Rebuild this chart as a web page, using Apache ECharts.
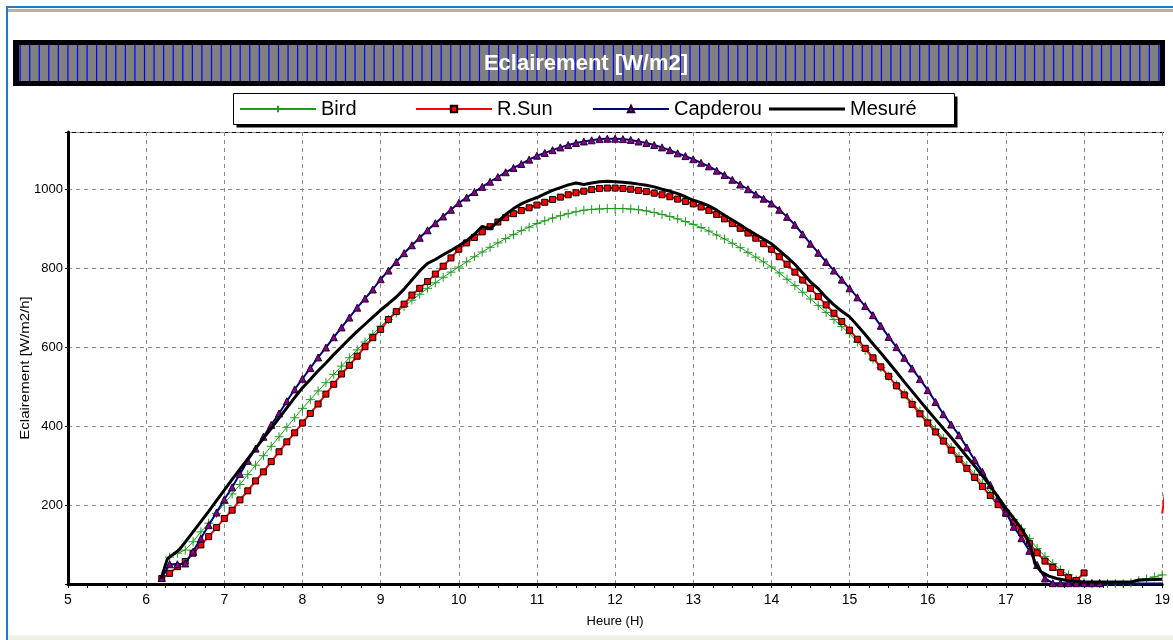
<!DOCTYPE html>
<html>
<head>
<meta charset="utf-8">
<title>Eclairement [W/m2]</title>
<script src="https://cdn.jsdelivr.net/npm/echarts@6/dist/echarts.min.js"></script>
<style>
  html, body { margin: 0; padding: 0; background: #fff; }
  #chart { width: 1173px; height: 640px; }
</style>
</head>
<body>
<div id="chart"></div>
<script>
// heures des modèles : pas de 6 min, de 6.2 h à 19.0 h
const hours = Array.from({ length: 129 }, (_, i) => Math.round((6.2 + i * 0.1) * 10) / 10);

// Bird (6.2 ... 19.0)
const bird = [
  null, 68, 78, 86, 107, 132, 154, 179,
  204, 228, 252, 277, 301, 325, 349, 373, 397, 421,
  445, 467, 489, 510, 531, 552, 573, 593, 613, 633,
  653, 670, 687, 703, 719, 734, 749, 763, 777, 790,
  803, 816, 829, 841, 853, 864, 875, 885, 895, 904,
  913, 920, 927, 933, 938, 943, 947, 949, 950, 951,
  951, 951, 950, 948, 945, 941, 936, 931, 925, 918,
  911, 903, 894, 884, 874, 863, 852, 840, 828, 816,
  803, 788, 772, 756, 739, 722, 705, 688, 670, 652,
  634, 613, 592, 570, 548, 526, 504, 482, 460, 438,
  415, 392, 369, 346, 323, 300, 278, 255, 232, 210,
  187, 164, 140, 115, 90, 70, 52, 36, 23, 10,
  3, 1, 1, 1, 1, 1, 3, 8, 13, 18,
  23
];

// R.Sun
const rsun = [
  14, 27, 44, 57, 78, 99, 120, 143,
  166, 187, 213, 236, 261, 284, 310, 335, 360, 383,
  408, 432, 456, 481, 506, 532, 554, 577, 601, 624,
  645, 670, 690, 709, 732, 749, 766, 785, 805, 826,
  848, 864, 878, 892, 905, 917, 928, 938, 946, 953,
  960, 967, 974, 980, 986, 991, 995, 999, 1002, 1003,
  1003, 1002, 1000, 997, 994, 990, 986, 981, 975, 969,
  963, 955, 946, 936, 925, 913, 901, 889, 876, 862,
  848, 829, 810, 790, 770, 749, 728, 707, 686, 665,
  643, 620, 597, 573, 550, 526, 502, 479, 455, 431,
  408, 385, 362, 339, 316, 293, 270, 247, 224, 201,
  179, 155, 130, 103, 79, 58, 42, 29, 16, 9,
  28, null, null, null, null, null, null, null, null, null,
  178
];
const rsunTail = [[19.1, 330]];

// Capderou
const capderou = [
  15, 50, 50, 52, 82, 115, 149, 181,
  214, 245, 279, 312, 343, 373, 403, 432, 463, 493,
  520, 547, 574, 599, 625, 650, 675, 700, 723, 746,
  772, 794, 816, 838, 858, 877, 896, 914, 931, 948,
  965, 979, 993, 1006, 1019, 1031, 1043, 1054, 1064, 1075,
  1085, 1092, 1099, 1106, 1112, 1117, 1121, 1124, 1127, 1128,
  1128, 1127, 1125, 1121, 1117, 1112, 1106, 1099, 1091, 1084,
  1076, 1067, 1058, 1047, 1036, 1024, 1012, 1000, 987, 976,
  964, 948, 930, 910, 886, 862, 839, 816, 794, 771,
  749, 726, 704, 681, 654, 626, 600, 573, 546, 519,
  491, 461, 430, 404, 377, 346, 314, 284, 251, 217,
  181, 145, 116, 84, 48, 14, 2, 2, 2, 2,
  2, 2, 2, 1, 1, 1, 1, 1, 1, 1,
  1
];
const capderouLastMarker = 18.2;

// Mesuré
const mesHours = [
  6.19, 6.23, 6.27, 6.33, 6.42, 6.5, 6.6, 6.7, 6.8, 6.9,
  7.0, 7.1, 7.2, 7.3, 7.4, 7.5, 7.6, 7.7, 7.8, 7.9,
  8.0, 8.1, 8.2, 8.3, 8.4, 8.5, 8.6, 8.7, 8.8, 8.9,
  9.0, 9.1, 9.2, 9.3, 9.4, 9.5, 9.6, 9.7, 9.8, 9.9,
  10.0, 10.1, 10.2, 10.3, 10.4, 10.5, 10.6, 10.7, 10.8, 10.9,
  11.0, 11.1, 11.2, 11.3, 11.4, 11.5, 11.6, 11.7, 11.8, 11.9,
  12.0, 12.1, 12.2, 12.3, 12.4, 12.5, 12.6, 12.7, 12.8, 12.9,
  13.0, 13.1, 13.2, 13.3, 13.4, 13.5, 13.6, 13.7, 13.8, 13.9,
  14.0, 14.1, 14.2, 14.3, 14.4, 14.5, 14.6, 14.7, 14.8, 14.9,
  15.0, 15.1, 15.2, 15.3, 15.4, 15.5, 15.6, 15.7, 15.8, 15.9,
  16.0, 16.1, 16.2, 16.3, 16.4, 16.5, 16.6, 16.7, 16.8, 16.9,
  17.0, 17.1, 17.2, 17.26, 17.33, 17.37, 17.45, 17.55, 17.65, 17.8,
  18.0, 18.6, 18.7, 19.0
];
const mesure = [
  14, 38, 63, 73, 86, 106, 132, 158, 184, 211,
  238, 265, 291, 317, 343, 369, 394, 420, 446, 472,
  497, 518, 540, 560, 581, 601, 621, 640, 658, 676,
  694, 710, 727, 747, 770, 793, 812, 822, 834, 845,
  857, 870, 886, 906, 900, 918, 936, 951, 963, 972,
  979, 988, 997, 1004, 1011, 1016, 1012, 1016, 1019, 1020,
  1019, 1018, 1016, 1013, 1010, 1006, 1000, 995, 989, 981,
  972, 966, 958, 947, 934, 922, 910, 897, 885, 874,
  862, 845, 828, 810, 788, 765, 748, 726, 707, 691,
  677, 655, 632, 608, 585, 561, 537, 512, 488, 464,
  440, 417, 394, 371, 347, 323, 299, 274, 248, 220,
  192, 166, 140, 120, 86, 52, 31, 20, 14, 8,
  5, 5, 10, 12
];

const yTicks = [200, 400, 600, 800, 1000];

const FONT = 'Liberation Sans, Arial, sans-serif';

function pairs(xs, ys) {
  return xs.map((h, i) => [h, ys[i] == null ? '-' : ys[i]]);
}

const rsunData = pairs(hours, rsun).map(p => p[0] >= 19 ? { value: p, symbol: 'none' } : p)
  .concat(rsunTail.map(p => ({ value: p, symbol: 'none' })));
const capData = pairs(hours, capderou).map(p => p[0] > capderouLastMarker ? { value: p, symbol: 'none' } : p);

// décor : bandeau de titre rayé
const stripes = [];
for (let x = 19.5; x < 1160; x += 9.57) {
  stripes.push({
    type: 'rect', silent: true,
    shape: { x: x, y: 45, width: 1.2, height: 36 },
    style: { fill: '#0000ff' }
  });
}

const legendBase = {
  top: 99, padding: 0, itemWidth: 76, itemHeight: 8, selectedMode: false,
  textStyle: { fontSize: 20, color: '#000', fontFamily: FONT, lineHeight: 20 }
};

const chart = echarts.init(document.getElementById('chart'), null, { renderer: 'canvas' });

chart.setOption({
  animation: false,
  backgroundColor: '#fff',
  grid: { left: 68, right: 9, top: 132, bottom: 56 },
  legend: [
    Object.assign({}, legendBase, { left: 239, data: ['Bird'] }),
    Object.assign({}, legendBase, { left: 415, data: ['R.Sun'] }),
    Object.assign({}, legendBase, { left: 592, data: ['Capderou'] }),
    Object.assign({}, legendBase, { left: 769, itemHeight: 3,
      data: [{ name: 'Mesuré', icon: 'rect' }] })
  ],
  xAxis: {
    type: 'value', min: 5, max: 19, interval: 1,
    name: 'Heure (H)', nameLocation: 'middle', nameGap: 31,
    nameTextStyle: { fontSize: 13, color: '#000', fontFamily: FONT },
    axisLine: { lineStyle: { color: '#000', width: 3 } },
    axisTick: { show: true, length: 4, lineStyle: { color: '#000' } },
    minorTick: { show: true, splitNumber: 4, length: 4, lineStyle: { color: '#000' } },
    axisLabel: { fontSize: 14, color: '#000', fontFamily: FONT, margin: 9 },
    splitLine: { show: true, lineStyle: { color: '#8a8a8a', type: [4, 4], width: 1 } }
  },
  yAxis: {
    type: 'value', min: 0, max: 1145, interval: 200,
    axisLine: { show: true, lineStyle: { color: '#000', width: 3 } },
    axisTick: { show: true, length: 3, lineStyle: { color: '#000' } },
    axisLabel: {
      fontSize: 13, color: '#000', fontFamily: FONT, margin: 5,
      formatter: v => (yTicks.indexOf(v) >= 0 ? String(v) : '')
    },
    splitLine: { show: true, lineStyle: { color: '#8a8a8a', type: [4, 4], width: 1 } }
  },
  series: [
    {
      name: 'Bird', type: 'line', data: pairs(hours, bird), z: 3,
      symbol: 'path://M0,5L10,5M5,0L5,10', symbolSize: 9,
      lineStyle: { color: '#1e9a1e', width: 1 },
      itemStyle: { color: '#1e9a1e', borderColor: '#1e9a1e', borderWidth: 1 }
    },
    {
      name: 'R.Sun', type: 'line', data: rsunData, z: 4,
      symbol: 'rect', symbolSize: 6,
      lineStyle: { color: '#ff0000', width: 2 },
      itemStyle: { color: '#ff0000', borderColor: '#000', borderWidth: 1 }
    },
    {
      name: 'Capderou', type: 'line', data: capData, z: 5, connectNulls: true,
      symbol: 'triangle', symbolSize: 7,
      lineStyle: { color: '#000080', width: 2 },
      itemStyle: { color: '#800080', borderColor: '#200030', borderWidth: 1 }
    },
    {
      name: 'Mesuré', type: 'line', data: pairs(mesHours, mesure), z: 6,
      symbol: 'none',
      lineStyle: { color: '#000', width: 3 },
      itemStyle: { color: '#000' }
    }
  ],
  graphic: [
    // cadre de fenêtre
    { type: 'rect', silent: true, shape: { x: 6, y: 6, width: 1167, height: 2 }, style: { fill: '#1f78cc' } },
    { type: 'rect', silent: true, shape: { x: 8, y: 9, width: 1165, height: 3 }, style: { fill: '#b4b1a4' } },
    { type: 'rect', silent: true, shape: { x: 6, y: 6, width: 2, height: 634 }, style: { fill: '#1f78cc' } },
    { type: 'rect', silent: true, shape: { x: 8, y: 635, width: 1165, height: 5 }, style: { fill: '#f2f0e6' } },
    // bandeau titre
    { type: 'rect', silent: true, shape: { x: 13, y: 40, width: 1152, height: 46 }, style: { fill: '#000' } },
    { type: 'rect', silent: true, shape: { x: 19, y: 45, width: 1141, height: 36 }, style: { fill: '#808080' } },
    { type: 'group', silent: true, children: stripes },
    {
      type: 'text', silent: true, x: 586, y: 64, z: 10,
      style: { text: 'Eclairement [W/m2]', fill: '#fff', font: 'bold 22px ' + FONT,
        align: 'center', verticalAlign: 'middle', textAlign: 'center', textVerticalAlign: 'middle' }
    },
    // boîte de légende avec ombre
    { type: 'rect', silent: true, z: -1, shape: { x: 236.5, y: 96.5, width: 721, height: 31 }, style: { fill: '#000' } },
    { type: 'rect', silent: true, z: -1, shape: { x: 233.5, y: 93.5, width: 721, height: 31 },
      style: { fill: '#fff', stroke: '#000', lineWidth: 1 } },
    // cadre haut du tracé
    { type: 'line', silent: true, shape: { x1: 68, y1: 132.5, x2: 1164, y2: 132.5 }, style: { stroke: '#000', lineWidth: 1 } },
    // titre de l'axe Y
    {
      type: 'text', silent: true, x: 26, y: 368, rotation: Math.PI / 2, scaleX: 1.25,
      style: { text: 'Eclairement [W/m2/h]', fill: '#000', font: '12px ' + FONT,
        align: 'center', verticalAlign: 'middle', textAlign: 'center', textVerticalAlign: 'middle' }
    }
  ]
});
</script>
</body>
</html>
